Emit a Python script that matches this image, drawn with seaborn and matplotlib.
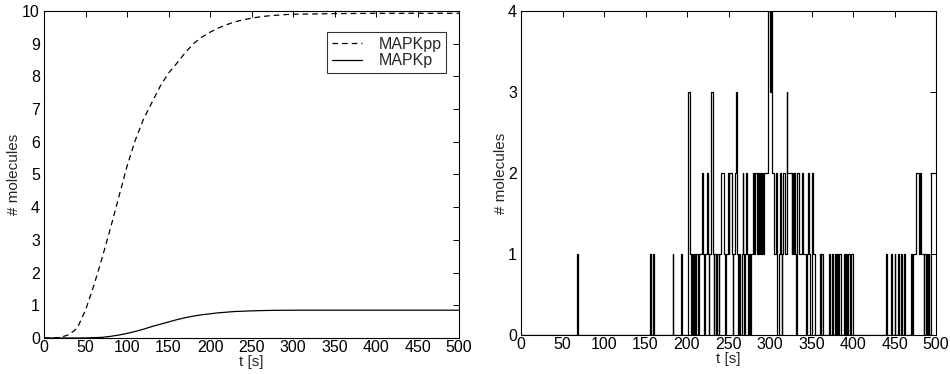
import numpy as np
import pandas as pd
import matplotlib
matplotlib.use("Agg")
import matplotlib.pyplot as plt
import seaborn as sns

# ---- Left panel: deterministic curves ----
t_det = [0, 10, 20, 30, 40, 50, 60, 70, 80, 90, 100, 110, 120, 130, 140, 150,
         160, 170, 180, 190, 200, 210, 220, 230, 240, 250, 260, 270, 280, 290,
         300, 350, 400, 450, 500]
mapkpp = [0.0, 0.0, 0.02, 0.1, 0.3, 0.85, 1.6, 2.45, 3.35, 4.3, 5.25, 6.05, 6.7,
          7.2, 7.7, 8.1, 8.4, 8.72, 9.0, 9.2, 9.35, 9.48, 9.58, 9.67, 9.73, 9.78,
          9.82, 9.85, 9.87, 9.89, 9.9, 9.92, 9.93, 9.93, 9.93]
mapkp = [0.0, 0.0, 0.0, 0.0, 0.0, 0.003, 0.01, 0.02, 0.05, 0.09, 0.14, 0.2, 0.27,
         0.35, 0.42, 0.49, 0.56, 0.62, 0.67, 0.71, 0.74, 0.77, 0.79, 0.81, 0.82,
         0.83, 0.837, 0.843, 0.846, 0.848, 0.85, 0.85, 0.85, 0.85, 0.85]

# ---- Right panel: stochastic trace (change times, values) ----
t_sto = [0, 67, 68.5, 156, 157, 159, 160, 183, 183.7, 193, 193.7, 201, 204, 205,
         206, 207, 208, 210, 211, 213, 214, 218, 219.5, 221, 222, 224, 225, 226,
         227, 229, 231, 232, 233, 235, 236, 238, 239, 241, 244, 246, 247, 249,
         250, 251, 254, 255, 256, 258, 259, 260, 262, 263, 264, 266, 267, 268,
         269, 270, 271, 272, 273, 275, 276, 277, 280, 281, 282, 284, 285, 286,
         287, 288, 289, 290, 291, 292, 293, 298, 300, 301, 303, 305, 307, 308,
         309, 311, 312, 313, 314, 315, 316, 318, 320, 321, 326, 327, 328, 329,
         330, 331, 332, 333, 335, 338, 340, 343, 344, 346, 347, 348, 350, 351,
         352, 354, 360, 361, 362, 364, 371, 372, 375, 376, 378, 379, 381, 382,
         383, 385, 389, 390, 391, 393, 394, 396, 398, 400, 440, 441, 446, 447,
         450, 451, 454, 455, 458, 459, 462, 463, 470, 471, 472, 476, 480, 481,
         482, 485, 486, 488, 489, 490, 491, 492, 494, 500]
n_sto = [0, 1, 0, 1, 0, 1, 0, 1, 0, 1, 0, 3, 1, 0,
         1, 0, 1, 0, 1, 0, 1, 2, 1, 0, 1, 2, 1, 0,
         1, 3, 1, 0, 1, 0, 1, 0, 1, 2, 1, 0, 1, 2,
         1, 2, 1, 0, 1, 2, 3, 1, 0, 1, 0, 1, 2, 1,
         0, 1, 2, 1, 0, 1, 0, 1, 2, 1, 2, 1, 2, 1,
         2, 1, 2, 1, 2, 1, 2, 4, 3, 4, 2, 1, 2, 1,
         0, 1, 2, 1, 0, 1, 2, 1, 3, 2, 1, 2, 1, 2,
         1, 0, 1, 2, 1, 2, 1, 0, 1, 2, 1, 0, 1, 2,
         1, 0, 1, 0, 1, 0, 1, 0, 1, 0, 1, 0, 1, 0,
         1, 0, 1, 0, 1, 0, 1, 0, 1, 0, 1, 0, 1, 0,
         1, 0, 1, 0, 1, 0, 1, 0, 1, 0, 1, 2, 1, 2,
         1, 0, 1, 0, 1, 0, 1, 0, 2, 2]

x_ticks = [0, 50, 100, 150, 200, 250, 300, 350, 400, 450, 500]

sns.set_theme(style="white")
plt.rcParams["font.family"] = ["Liberation Sans", "DejaVu Sans"]
plt.rcParams.update({
    "axes.edgecolor": "black",
    "axes.linewidth": 0.8,
    "xtick.direction": "in",
    "ytick.direction": "in",
    "xtick.top": True,
    "ytick.right": True,
    "xtick.major.size": 4,
    "ytick.major.size": 4,
    "xtick.major.width": 0.7,
    "ytick.major.width": 0.7,
    "xtick.major.pad": 1.5,
    "ytick.major.pad": 3,
    "xtick.color": "black",
    "ytick.color": "black",
    "xtick.labelsize": 11.5,
    "ytick.labelsize": 11.5,
})

fig = plt.figure(figsize=(9.5, 3.74), dpi=100)
ax1 = fig.add_axes([44 / 950, 1 - 338 / 374, 415 / 950, 327 / 374])
ax2 = fig.add_axes([521 / 950, 1 - 335 / 374, 415 / 950, 324 / 374])

df_det = pd.DataFrame({"t": t_det, "MAPKpp": mapkpp, "MAPKp": mapkp})
sns.lineplot(data=df_det, x="t", y="MAPKpp", ax=ax1, color="black", lw=0.9,
             linestyle=(0, (4.5, 3.2)), label="MAPKpp")
sns.lineplot(data=df_det, x="t", y="MAPKp", ax=ax1, color="black", lw=0.9,
             label="MAPKp")
ax1.set_xlim(0, 500)
ax1.set_ylim(0, 10)
ax1.set_xticks(x_ticks)
ax1.set_yticks(range(0, 11))
ax1.set_xlabel("t [s]", fontsize=11, labelpad=0)
ax1.set_ylabel("# molecules", fontsize=11, labelpad=1)
leg = ax1.legend(loc="upper right", bbox_to_anchor=(0.969, 0.936), fontsize=11.5,
                 frameon=True, fancybox=False, edgecolor="black",
                 handlelength=1.9, borderpad=0.3, labelspacing=0.1,
                 handletextpad=1.0, borderaxespad=0)
leg.get_frame().set_linewidth(0.8)

df_sto = pd.DataFrame({"t": t_sto, "n": n_sto})
sns.lineplot(data=df_sto, x="t", y="n", ax=ax2, color="black", lw=0.9,
             drawstyle="steps-post", estimator=None, sort=False)
ax2.set_xlim(0, 500)
ax2.set_ylim(0, 4)
ax2.set_xticks(x_ticks)
ax2.set_yticks(range(0, 5))
ax2.set_xlabel("t [s]", fontsize=11, labelpad=0)
ax2.set_ylabel("# molecules", fontsize=11, labelpad=0)

for ax in (ax1, ax2):
    for s in ax.spines.values():
        s.set_visible(True)
        s.set_color("black")

fig.savefig("out.png", dpi=100)
